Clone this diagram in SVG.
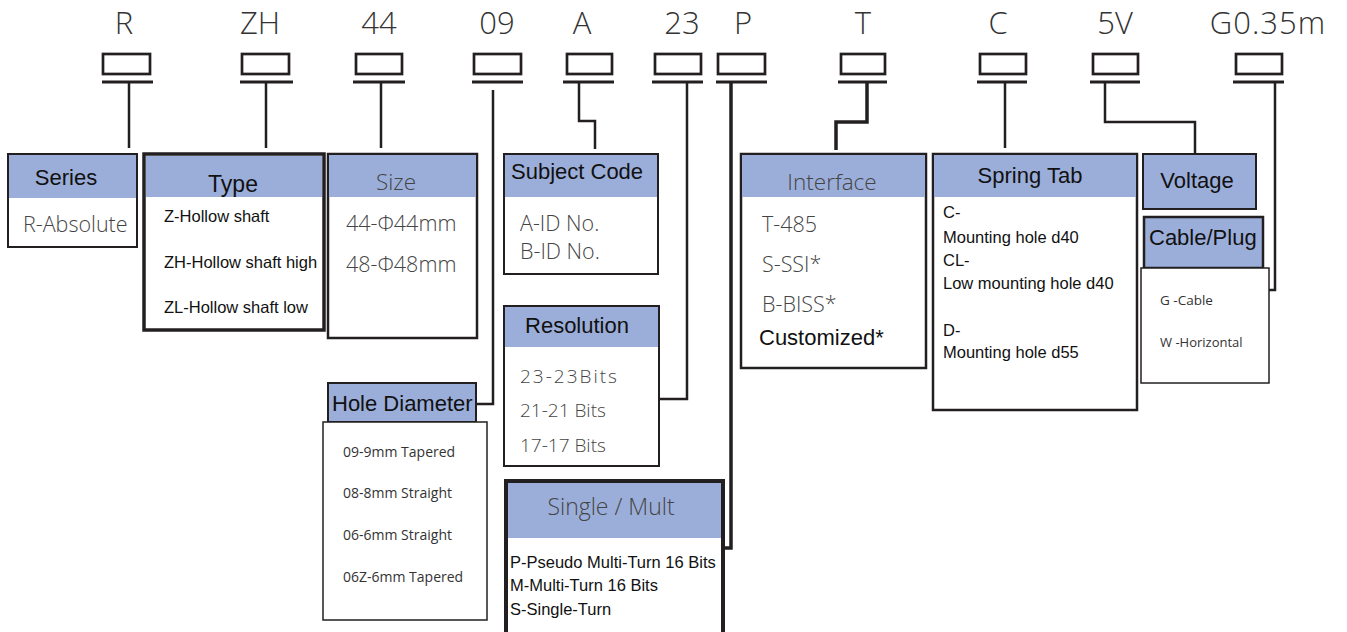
<svg xmlns="http://www.w3.org/2000/svg" width="1347" height="632" viewBox="0 0 1347 632">
<style>
.code{font-family:"Open Sans","Noto Sans",sans-serif;font-weight:300;font-size:31px;fill:#333;text-anchor:middle}
.slot{fill:none;stroke:#231f20;stroke-width:2.7}
.bar{stroke:#231f20;stroke-width:3}
.conn{fill:none;stroke:#231f20;stroke-width:2.5}
.box{fill:#fff;stroke:#231f20;stroke-width:2}
.hdr{fill:#9baed9}
.ht{font-family:"Liberation Sans",Arial,sans-serif;font-size:22px;fill:#111}
.hl{font-family:"Open Sans","Noto Sans",sans-serif;font-weight:300;font-size:22.5px;fill:#444}
.it{font-family:"Liberation Sans",Arial,sans-serif;font-size:16.5px;fill:#111}
.il{font-family:"Open Sans","Noto Sans",sans-serif;font-weight:300;font-size:21.5px;fill:#444}
.ir{font-family:"Open Sans","Noto Sans",sans-serif;font-weight:300;font-size:19px;fill:#444}
.is{font-family:"Open Sans","Noto Sans",sans-serif;font-size:14px;fill:#333}
</style>
<g id="code-row">
<text class="code" x="124" y="34">R</text>
<rect class="slot" x="103" y="54" width="47" height="20"/><line class="bar" x1="102" y1="82" x2="153" y2="82"/>
<text class="code" x="260" y="34">ZH</text>
<rect class="slot" x="242" y="54" width="47" height="20"/><line class="bar" x1="240" y1="82" x2="293" y2="82"/>
<text class="code" x="379" y="34">44</text>
<rect class="slot" x="356" y="54" width="46" height="20"/><line class="bar" x1="353" y1="82" x2="405" y2="82"/>
<text class="code" x="497" y="34">09</text>
<rect class="slot" x="474" y="54" width="47" height="20"/><line class="bar" x1="472" y1="82" x2="523" y2="82"/>
<text class="code" x="582" y="34">A</text>
<rect class="slot" x="567" y="54" width="45" height="20"/><line class="bar" x1="563" y1="82" x2="614" y2="82"/>
<text class="code" x="682" y="34">23</text>
<rect class="slot" x="655" y="54" width="46" height="20"/><line class="bar" x1="652" y1="82" x2="703" y2="82"/>
<text class="code" x="743" y="34">P</text>
<rect class="slot" x="718" y="54" width="47" height="20"/><line class="bar" x1="716" y1="82" x2="767" y2="82"/>
<text class="code" x="863" y="34">T</text>
<rect class="slot" x="841" y="54" width="44" height="20"/><line class="bar" x1="838" y1="82" x2="887" y2="82"/>
<text class="code" x="998" y="34">C</text>
<rect class="slot" x="980" y="54" width="46" height="20"/><line class="bar" x1="977" y1="82" x2="1027" y2="82"/>
<text class="code" x="1115" y="34">5V</text>
<rect class="slot" x="1093" y="54" width="45" height="20"/><line class="bar" x1="1090" y1="82" x2="1140" y2="82"/>
<text class="code" x="1268" y="34" style="letter-spacing:1px">G0.35m</text>
<rect class="slot" x="1236" y="54" width="46" height="20"/><line class="bar" x1="1233" y1="82" x2="1284" y2="82"/>
</g>
<g id="connectors">
<path class="conn" d="M129 82V148"/>
<path class="conn" d="M266 82V148"/>
<path class="conn" d="M381 82V148"/>
<path class="conn" d="M493 90V404H477"/>
<path class="conn" d="M579 82V121H595V149"/>
<path class="conn" d="M687 82V399H657"/>
<path class="conn" d="M731 82V548H723" style="stroke-width:3.5"/>
<path class="conn" d="M867 82V122H836V150" style="stroke-width:3.5"/>
<path class="conn" d="M1005 82V148"/>
<path class="conn" d="M1105 82V122H1195V153"/>
<path class="conn" d="M1275 82V290H1268"/>
</g>
<g id="series">
<rect class="box" x="8" y="154" width="129" height="93"/>
<rect class="hdr" x="9" y="155" width="127" height="43"/>
<text class="ht" x="66" y="185" text-anchor="middle">Series</text>
<text class="il" x="23" y="232">R-Absolute</text>
</g>
<g id="type">
<rect class="box" x="144" y="154" width="180" height="176" style="stroke-width:3.5"/>
<rect class="hdr" x="146" y="156" width="176" height="41"/>
<text class="ht" x="233" y="192" text-anchor="middle" style="font-size:23px">Type</text>
<text class="it" x="164" y="222">Z-Hollow shaft</text>
<text class="it" x="164" y="268">ZH-Hollow shaft high</text>
<text class="it" x="164" y="313">ZL-Hollow shaft low</text>
</g>
<g id="size">
<rect class="box" x="328" y="154" width="149" height="184" style="stroke-width:2.5"/>
<rect class="hdr" x="329" y="155" width="147" height="42"/>
<text class="hl" x="396" y="190" text-anchor="middle">Size</text>
<text class="il" x="346" y="231">44-Φ44mm</text>
<text class="il" x="346" y="272">48-Φ48mm</text>
</g>
<g id="subject-code">
<rect class="box" x="504" y="154" width="154" height="120"/>
<rect class="hdr" x="505" y="155" width="152" height="42"/>
<text class="ht" x="511" y="179">Subject Code</text>
<text class="il" x="520" y="231">A-ID No.</text>
<text class="il" x="520" y="259">B-ID No.</text>
</g>
<g id="resolution">
<rect class="box" x="504" y="306" width="155" height="160"/>
<rect class="hdr" x="505" y="307" width="153" height="40"/>
<text class="ht" x="577" y="333" text-anchor="middle">Resolution</text>
<text class="ir" x="520" y="383" style="letter-spacing:2px">23-23Bits</text>
<text class="ir" x="520" y="417">21-21 Bits</text>
<text class="ir" x="520" y="452">17-17 Bits</text>
</g>
<g id="single-mult">
<rect class="box" x="506" y="481" width="217" height="160" style="stroke-width:4"/>
<rect class="hdr" x="508" y="483" width="213" height="55"/>
<text class="hl" x="611" y="515" text-anchor="middle" style="font-size:23px">Single / Mult</text>
<text class="it" x="510" y="568">P-Pseudo Multi-Turn 16 Bits</text>
<text class="it" x="510" y="591">M-Multi-Turn 16 Bits</text>
<text class="it" x="510" y="615">S-Single-Turn</text>
</g>
<g id="hole-diameter">
<rect class="hdr" x="328" y="383" width="148" height="39" style="stroke:#231f20;stroke-width:2"/>
<text class="ht" x="332" y="411">Hole Diameter</text>
<rect class="box" x="323" y="422" width="164" height="198" style="stroke-width:1.5"/>
<text class="is" x="343" y="457">09-9mm Tapered</text>
<text class="is" x="343" y="498">08-8mm Straight</text>
<text class="is" x="343" y="540">06-6mm Straight</text>
<text class="is" x="343" y="582">06Z-6mm Tapered</text>
</g>
<g id="interface">
<rect class="box" x="741" y="154" width="185" height="214" style="stroke-width:2.5"/>
<rect class="hdr" x="742" y="155" width="183" height="42"/>
<text class="hl" x="832" y="190" text-anchor="middle">Interface</text>
<text class="il" x="762" y="232">T-485</text>
<text class="il" x="762" y="272">S-SSI*</text>
<text class="il" x="762" y="312">B-BISS*</text>
<text class="ht" x="759" y="345">Customized*</text>
</g>
<g id="spring-tab">
<rect class="box" x="933" y="154" width="204" height="256" style="stroke-width:2.5"/>
<rect class="hdr" x="934" y="155" width="202" height="42"/>
<text class="ht" x="1030" y="183" text-anchor="middle">Spring Tab</text>
<text class="it" x="943" y="218">C-</text>
<text class="it" x="943" y="243">Mounting hole d40</text>
<text class="it" x="943" y="266">CL-</text>
<text class="it" x="943" y="289">Low mounting hole d40</text>
<text class="it" x="943" y="336">D-</text>
<text class="it" x="943" y="358">Mounting hole d55</text>
</g>
<g id="voltage">
<rect class="hdr" x="1143" y="154" width="113" height="55" style="stroke:#231f20;stroke-width:2"/>
<text class="ht" x="1197" y="188" text-anchor="middle">Voltage</text>
</g>
<g id="cable-plug">
<rect class="hdr" x="1144" y="217" width="119" height="51" style="stroke:#231f20;stroke-width:2.5"/>
<text class="ht" x="1149" y="245">Cable/Plug</text>
<rect class="box" x="1141" y="268" width="128" height="115" style="stroke-width:1.5"/>
<text class="is" x="1160" y="305" style="font-size:13.5px">G -Cable</text>
<text class="is" x="1160" y="347" style="font-size:13px">W -Horizontal</text>
</g>
</svg>
